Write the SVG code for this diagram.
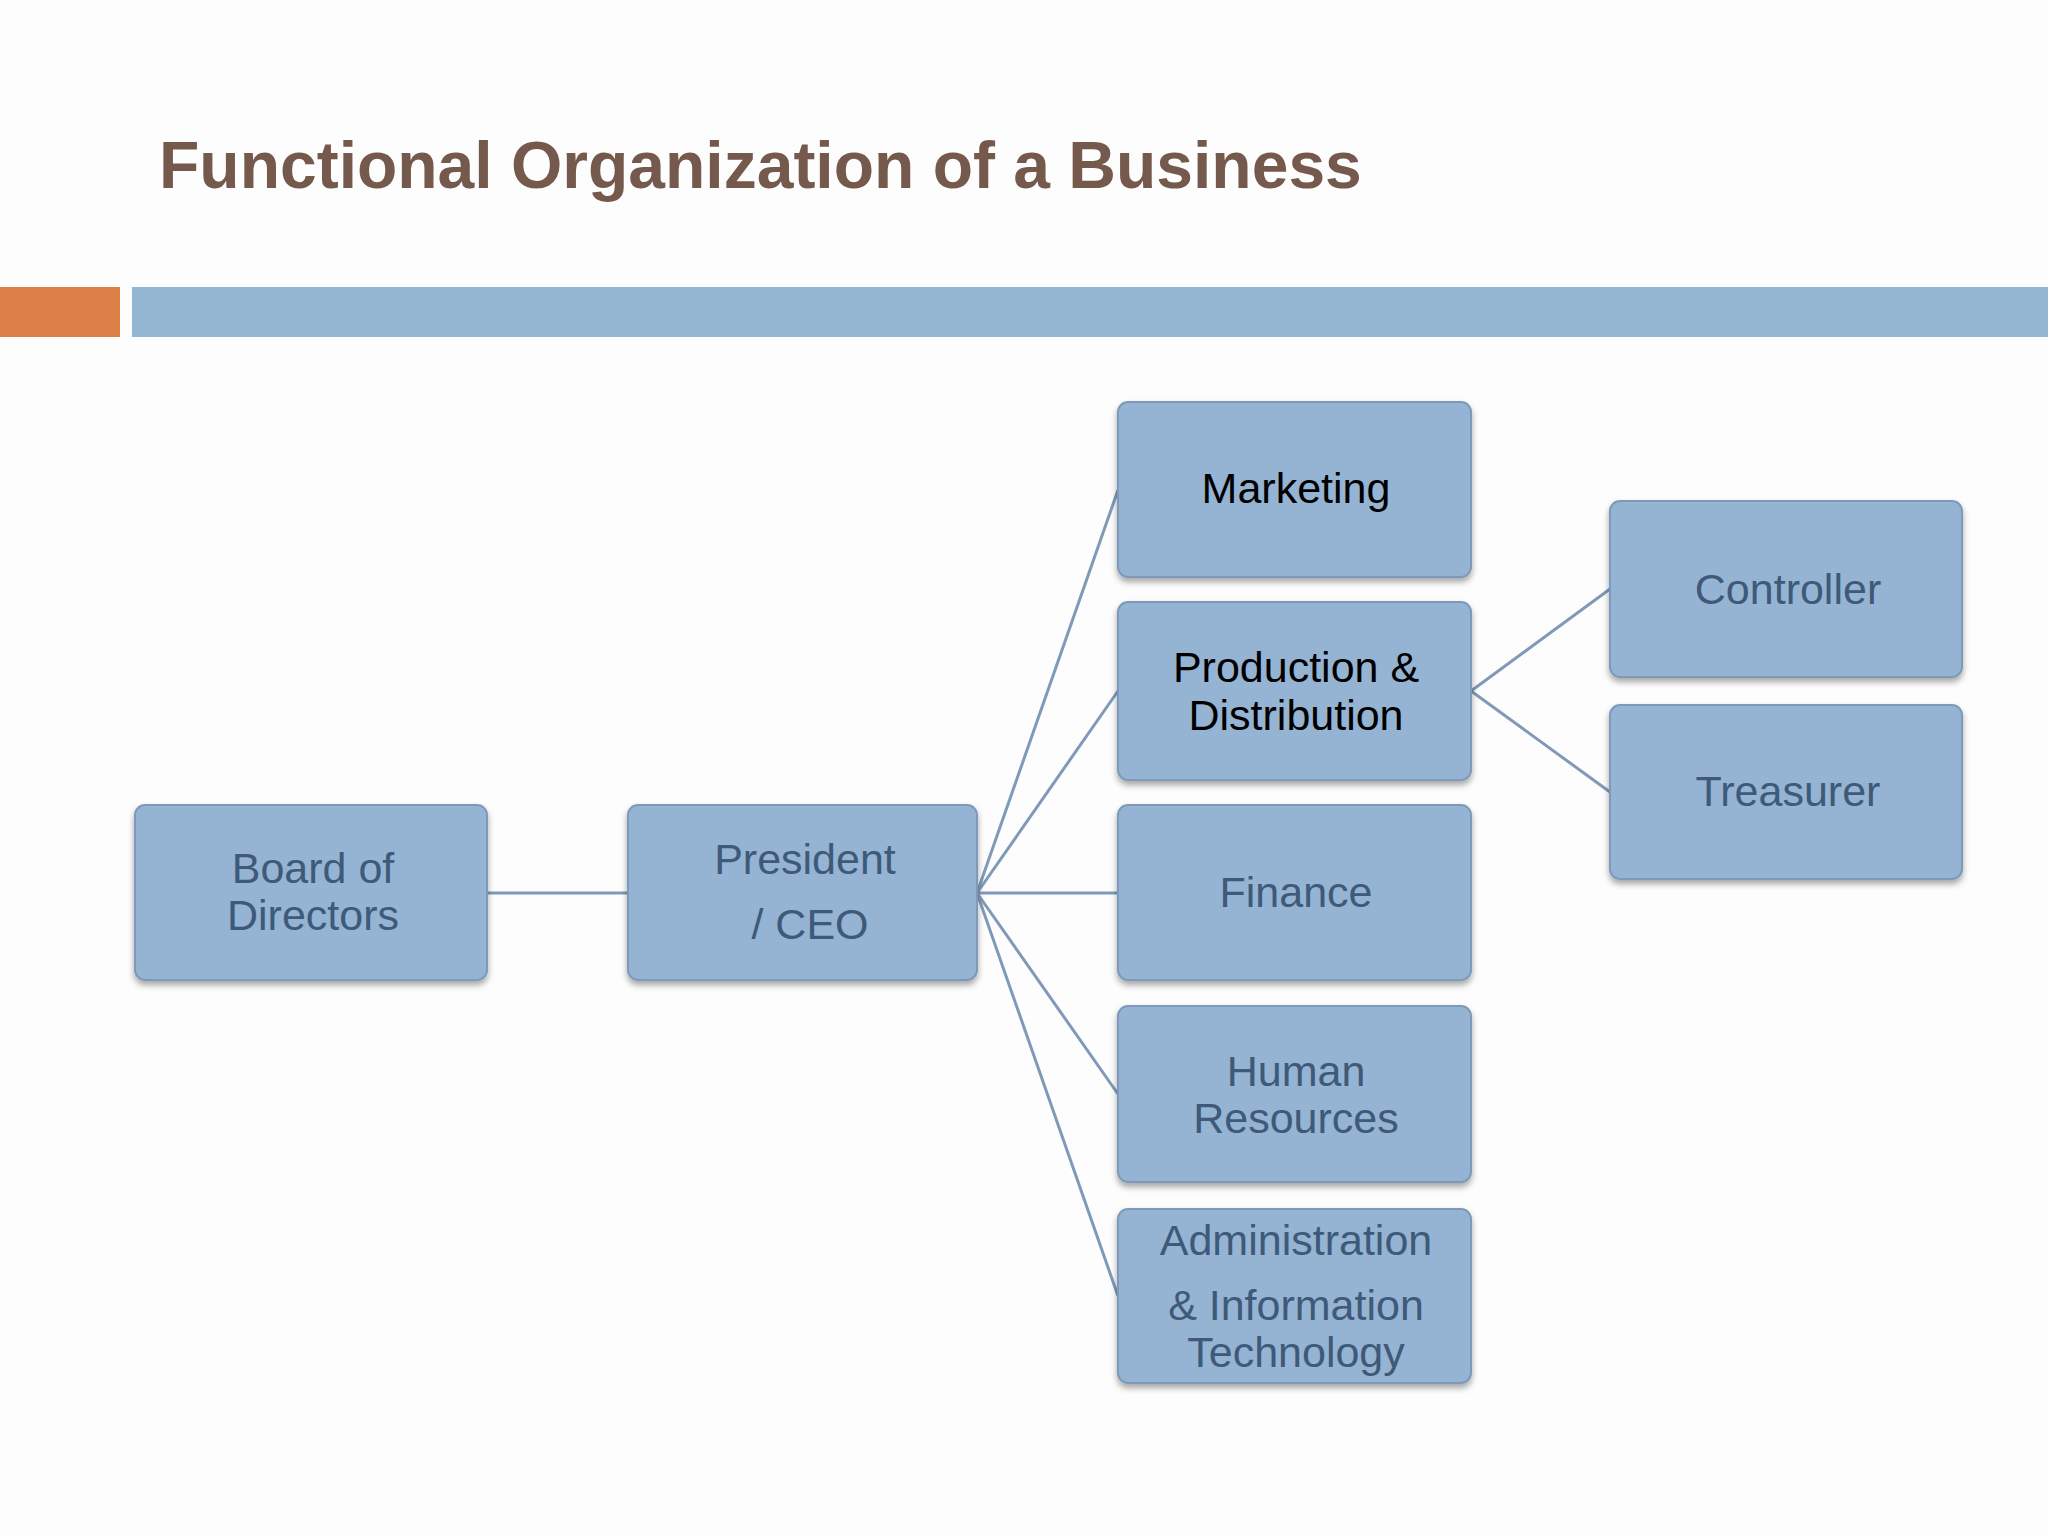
<svg xmlns="http://www.w3.org/2000/svg" width="2048" height="1536" viewBox="0 0 2048 1536">
<style>
.n{fill:#95b3d2;stroke:#7f9ab8;stroke-width:2;filter:url(#sh)}
.t{font-family:"Liberation Sans",Arial,sans-serif;font-size:43px;fill:#3e5a78;text-anchor:middle}
.b{fill:#000}
.c{stroke:#7f9ab8;stroke-width:3;fill:none}
</style>
<defs><filter id="sh" x="-10%" y="-10%" width="120%" height="130%"><feDropShadow dx="0" dy="4" stdDeviation="3" flood-color="#000" flood-opacity="0.35"/></filter></defs>
<rect width="2048" height="1536" fill="#fdfdfd"/>
<text x="159" y="188" font-family="Liberation Sans,Arial,sans-serif" font-size="66" font-weight="bold" fill="#75594c">Functional Organization of a Business</text>
<rect x="0" y="287" width="120" height="50" fill="#dd8047"/>
<rect x="132" y="287" width="1916" height="50" fill="#94b6d2"/>
<g id="connectors">
<line class="c" x1="487" y1="893" x2="628" y2="893"/>
<line class="c" x1="977" y1="893" x2="1118" y2="490"/>
<line class="c" x1="977" y1="893" x2="1118" y2="691"/>
<line class="c" x1="977" y1="893" x2="1118" y2="893"/>
<line class="c" x1="977" y1="893" x2="1118" y2="1094"/>
<line class="c" x1="977" y1="893" x2="1118" y2="1296"/>
<line class="c" x1="1471" y1="691" x2="1610" y2="589"/>
<line class="c" x1="1471" y1="691" x2="1610" y2="792"/>
</g>
<g id="board"><rect class="n" x="135" y="805" width="352" height="175" rx="10"/><text class="t" x="313" y="883">Board of</text><text class="t" x="313" y="930">Directors</text></g>
<g id="president"><rect class="n" x="628" y="805" width="349" height="175" rx="10"/><text class="t" x="805" y="874">President</text><text class="t" x="810" y="939">/ CEO</text></g>
<g id="marketing"><rect class="n" x="1118" y="402" width="353" height="175" rx="10"/><text class="t b" x="1296" y="503">Marketing</text></g>
<g id="production"><rect class="n" x="1118" y="602" width="353" height="178" rx="10"/><text class="t b" x="1296" y="682">Production &amp;</text><text class="t b" x="1296" y="730">Distribution</text></g>
<g id="finance"><rect class="n" x="1118" y="805" width="353" height="175" rx="10"/><text class="t" x="1296" y="907">Finance</text></g>
<g id="hr"><rect class="n" x="1118" y="1006" width="353" height="176" rx="10"/><text class="t" x="1296" y="1086">Human</text><text class="t" x="1296" y="1133">Resources</text></g>
<g id="admin"><rect class="n" x="1118" y="1209" width="353" height="174" rx="10"/><text class="t" x="1296" y="1255">Administration</text><text class="t" x="1296" y="1320">&amp; Information</text><text class="t" x="1296" y="1367">Technology</text></g>
<g id="controller"><rect class="n" x="1610" y="501" width="352" height="176" rx="10"/><text class="t" x="1788" y="604">Controller</text></g>
<g id="treasurer"><rect class="n" x="1610" y="705" width="352" height="174" rx="10"/><text class="t" x="1788" y="806">Treasurer</text></g>
</svg>
